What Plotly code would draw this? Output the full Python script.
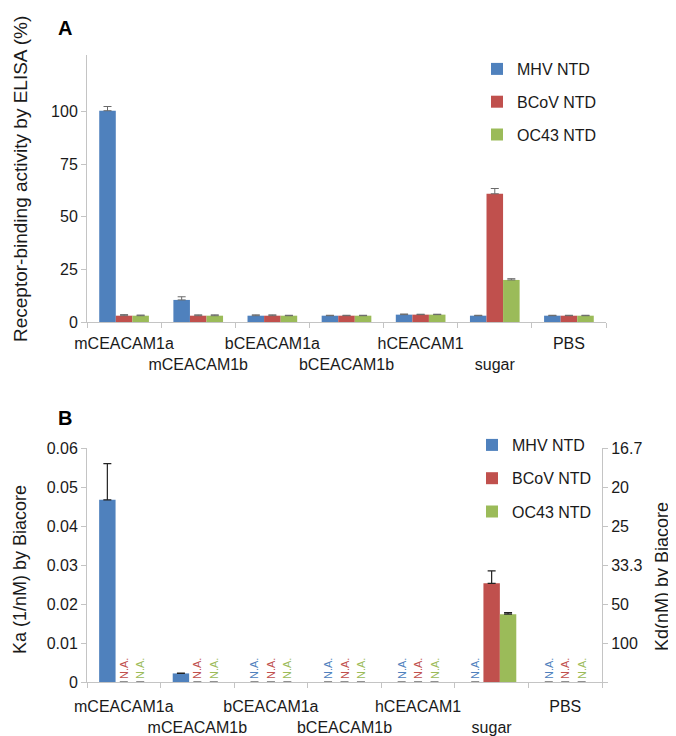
import plotly.graph_objects as go

categories = ["mCEACAM1a", "mCEACAM1b", "bCEACAM1a", "bCEACAM1b", "hCEACAM1", "sugar", "PBS"]
series_names = ["MHV NTD", "BCoV NTD", "OC43 NTD"]
series_colors = ["#4F81BD", "#C0504D", "#9BBB59"]

# Panel A: ELISA receptor-binding activity (%)
elisa_mhv = [100.5, 10.5, 3.0, 3.0, 3.5, 3.0, 3.0]
elisa_mhv_err = [2.0, 1.5, 0.4, 0.2, 0.3, 0.2, 0.2]
elisa_bcov = [3.0, 3.0, 3.0, 3.0, 3.5, 61.0, 3.0]
elisa_bcov_err = [0.5, 0.4, 0.4, 0.2, 0.2, 2.5, 0.2]
elisa_oc43 = [3.0, 3.0, 3.0, 3.0, 3.5, 20.0, 3.0]
elisa_oc43_err = [0.3, 0.4, 0.2, 0.2, 0.2, 0.6, 0.2]

# Panel B: Ka (1/nM) by Biacore (None = N.A.)
ka_mhv = [0.0467, 0.0022, None, None, None, None, None]
ka_mhv_err = [0.0093, 0.0001, None, None, None, None, None]
ka_bcov = [None, None, None, None, None, 0.0253, None]
ka_bcov_err = [None, None, None, None, None, 0.0032, None]
ka_oc43 = [None, None, None, None, None, 0.0174, None]
ka_oc43_err = [None, None, None, None, None, 0.0004, None]

elisa_ticks = [0, 25, 50, 75, 100]
ka_tickvals = [0, 0.01, 0.02, 0.03, 0.04, 0.05, 0.06]
ka_ticktext = ["0", "0.01", "0.02", "0.03", "0.04", "0.05", "0.06"]
kd_tickvals = [0, 0.01, 0.02, 0.03, 0.04, 0.05, 0.06]
kd_ticktext = ["", "100", "50", "33.3", "25", "20", "16.7"]

FONT = "Arial, Liberation Sans, sans-serif"
TXT = "#1a1a1a"
AX = "#c4c4c4"
OFF = 8  # default page body margin
W, H = 676 - OFF, 736 - OFF

fig = go.Figure()

elisa = [(elisa_mhv, elisa_mhv_err), (elisa_bcov, elisa_bcov_err), (elisa_oc43, elisa_oc43_err)]
for name, color, (vals, errs) in zip(series_names, series_colors, elisa):
    fig.add_trace(go.Bar(
        x=categories, y=vals, name=name, marker=dict(color=color, line=dict(width=0)),
        error_y=dict(type="data", array=errs, arrayminus=[0] * len(errs), symmetric=False,
                     color="#6a6a6a", thickness=1, width=4),
        xaxis="x", yaxis="y", legend="legend", legendgroup="a" + name,
    ))

ka = [(ka_mhv, ka_mhv_err), (ka_bcov, ka_bcov_err), (ka_oc43, ka_oc43_err)]
for name, color, (vals, errs) in zip(series_names, series_colors, ka):
    yv = [0 if v is None else v for v in vals]
    tx = ["N.A." if v is None else "" for v in vals]
    ev = [e if e is not None else float("nan") for e in errs]
    fig.add_trace(go.Bar(
        x=categories, y=yv, name=name, marker=dict(color=color, line=dict(width=0)),
        text=tx, textposition="outside", textangle=-90, cliponaxis=False, constraintext="none",
        textfont=dict(color=color, size=11, family=FONT),
        error_y=dict(type="data", array=ev, arrayminus=[0] * len(ev), symmetric=False,
                     color="#222222", thickness=1.2, width=4),
        xaxis="x2", yaxis="y2", legend="legend2", legendgroup="b" + name,
    ))

def px(x):
    return (x - OFF) / W

def py(y):
    return 1 - (y - OFF) / H

ticktext = [c if i % 2 == 0 else "<br>" + c for i, c in enumerate(categories)]

xcommon = dict(type="category", showline=True, linecolor=AX, linewidth=1, ticks="outside",
               tickson="boundaries", ticklen=5, tickcolor=AX, showgrid=False, automargin=False,
               tickvals=categories, ticktext=ticktext, tickangle=0,
               tickfont=dict(size=16, color=TXT, family=FONT))
ycommon = dict(showline=True, linecolor=AX, linewidth=1, ticks="outside", ticklen=5,
               tickcolor=AX, showgrid=False, zeroline=False, automargin=False,
               tickfont=dict(size=16, color=TXT, family=FONT))

fig.update_layout(
    width=W, height=H, margin=dict(l=0, r=0, t=0, b=0, autoexpand=False),
    paper_bgcolor="white", plot_bgcolor="white",
    barmode="group", bargap=0.33, bargroupgap=0,
    font=dict(family=FONT, color=TXT, size=16),
    xaxis=dict(xcommon, domain=[px(87), px(606)], anchor="y", ticklabelstandoff=7),
    yaxis=dict(ycommon, domain=[py(322), py(55)], range=[0, 127], tickvals=elisa_ticks, anchor="x"),
    xaxis2=dict(xcommon, domain=[px(87), px(602)], anchor="y2", ticklabelstandoff=10),
    yaxis2=dict(ycommon, domain=[py(682), py(448)], range=[0, 0.06], tickvals=ka_tickvals,
                ticktext=ka_ticktext, anchor="x2"),
    yaxis3=dict(ycommon, overlaying="y2", side="right", anchor="x2", range=[0, 0.06],
                tickvals=kd_tickvals, ticktext=kd_ticktext),
    legend=dict(x=px(477), y=py(52), xanchor="left", yanchor="top", tracegroupgap=9,
                font=dict(size=16, color=TXT, family=FONT), bgcolor="rgba(0,0,0,0)"),
    legend2=dict(x=px(472), y=py(428), xanchor="left", yanchor="top", tracegroupgap=9.5,
                 font=dict(size=16, color=TXT, family=FONT), bgcolor="rgba(0,0,0,0)"),
    annotations=[
        dict(text="<b>A</b>", x=px(56), y=py(28), xref="paper", yref="paper", xanchor="left",
             yanchor="middle", showarrow=False, font=dict(size=20, color="#000", family=FONT)),
        dict(text="<b>B</b>", x=px(56), y=py(418), xref="paper", yref="paper", xanchor="left",
             yanchor="middle", showarrow=False, font=dict(size=20, color="#000", family=FONT)),
        dict(text="Receptor-binding activity by ELISA (%)", x=px(20), y=py(179), xref="paper",
             yref="paper", textangle=-90, showarrow=False, xanchor="center", yanchor="middle",
             font=dict(size=19, color=TXT, family=FONT)),
        dict(text="Ka (1/nM) by Biacore", x=px(20), y=py(570), xref="paper", yref="paper",
             textangle=-90, showarrow=False, xanchor="center", yanchor="middle",
             font=dict(size=18, color=TXT, family=FONT)),
        dict(text="Kd(nM) by Biacore", x=px(662), y=py(577), xref="paper", yref="paper",
             textangle=-90, showarrow=False, xanchor="center", yanchor="middle",
             font=dict(size=18, color=TXT, family=FONT)),
    ],
)

# the right-hand Kd axis needs a trace to render; attach an invisible one
fig.add_trace(go.Scatter(x=[categories[0]], y=[0], xaxis="x2", yaxis="y3", mode="markers",
                         marker=dict(opacity=0), showlegend=False, hoverinfo="skip"))

fig.write_html("out.html")
